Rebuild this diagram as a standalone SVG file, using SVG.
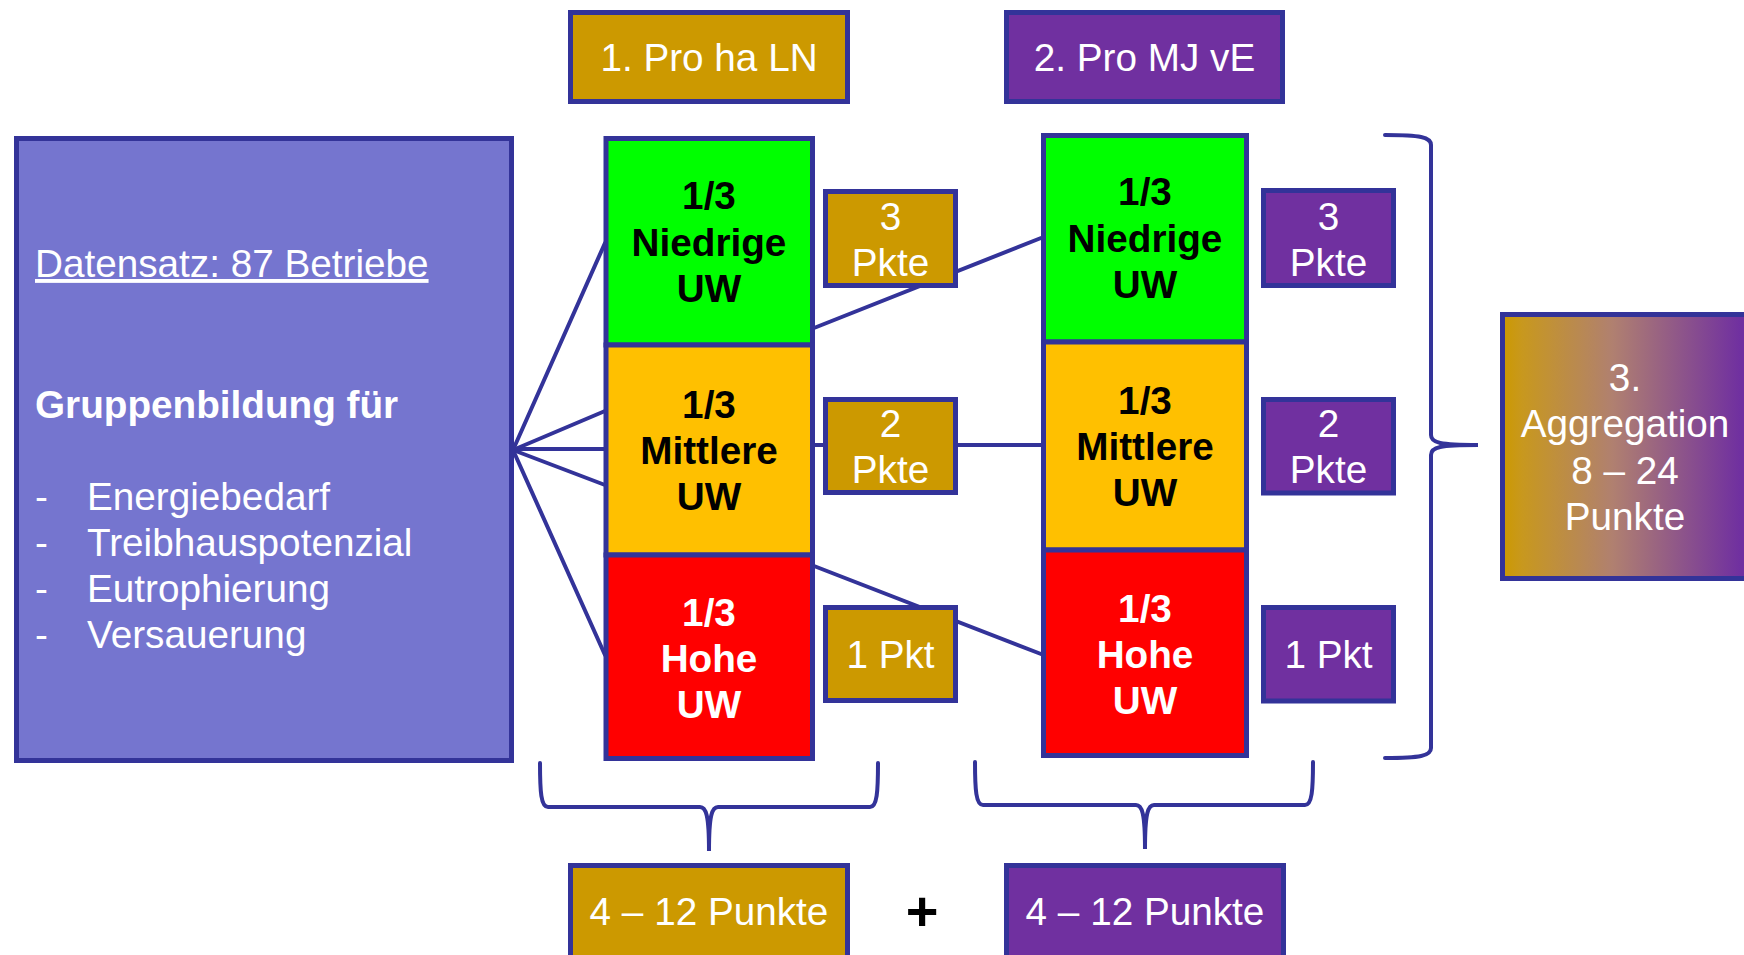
<svg xmlns="http://www.w3.org/2000/svg" width="1744" height="955" viewBox="0 0 1744 955">
<defs>
<linearGradient id="aggGrad" x1="0" y1="0" x2="1" y2="0">
<stop offset="0" stop-color="#CC9900"/>
<stop offset="0.08" stop-color="#C8981E"/>
<stop offset="0.45" stop-color="#B08070"/>
<stop offset="0.97" stop-color="#7030A0"/>
</linearGradient>
</defs>
<style>
text{font-family:"Liberation Sans",Arial,sans-serif;font-size:38.7px}
.box{stroke:#333399;stroke-width:5}
.gold{fill:#CC9900}
.purple{fill:#7030A0}
.w{fill:#FFFFFF}
.k{fill:#000000}
.b{font-weight:bold}
.c{text-anchor:middle}
.conn{stroke:#333399;stroke-width:4;fill:none;stroke-linecap:round}
</style>
<rect width="1744" height="955" fill="#FFFFFF"/>

<g id="connectors">
<line class="conn" x1="513" y1="450" x2="605" y2="243"/>
<line class="conn" x1="513" y1="450" x2="605" y2="411"/>
<line class="conn" x1="513" y1="449" x2="605" y2="449"/>
<line class="conn" x1="513" y1="450" x2="605" y2="485"/>
<line class="conn" x1="513" y1="450" x2="605" y2="655"/>
<line class="conn" x1="814" y1="328" x2="1041" y2="238"/>
<line class="conn" x1="814" y1="445" x2="1041" y2="445"/>
<line class="conn" x1="814" y1="566" x2="1041" y2="654"/>
<path class="conn" d="M540 763 C540 792 541 807 548 807 L700 807 C706 807 709 815 709 851 C709 815 712 807 718 807 L870 807 C877 807 878 792 878 763"/>
<path class="conn" d="M975 762 C975 790 976 805 983 805 L1136 805 C1142 805 1145 813 1145 849 C1145 813 1148 805 1154 805 L1305 805 C1312 805 1313 790 1313 762"/>
<path class="conn" d="M1385 135 C1420 135 1431 137 1431 145 L1431 435 C1431 443 1440 445 1478 445 C1440 445 1431 447 1431 455 L1431 748 C1431 756 1420 758 1385 758"/>
</g>

<g id="datensatz">
<rect class="box" x="16.5" y="138.5" width="495" height="622" fill="#7575CF"/>
<text class="w" x="35" y="277" text-decoration="underline">Datensatz: 87 Betriebe</text>
<text class="w b" x="35" y="417.5">Gruppenbildung für</text>
<text class="w" x="35" y="510">-</text><text class="w" x="87" y="510">Energiebedarf</text>
<text class="w" x="35" y="556">-</text><text class="w" x="87" y="556">Treibhauspotenzial</text>
<text class="w" x="35" y="602">-</text><text class="w" x="87" y="602">Eutrophierung</text>
<text class="w" x="35" y="648">-</text><text class="w" x="87" y="648">Versauerung</text>
</g>

<g id="header1">
<rect class="box gold" x="570.5" y="12.5" width="277" height="89"/>
<text class="w c" x="709" y="71">1. Pro ha LN</text>
</g>
<g id="header2">
<rect class="box purple" x="1006.5" y="12.5" width="276" height="89"/>
<text class="w c" x="1144.5" y="71">2. Pro MJ vE</text>
</g>

<g id="col1-niedrig">
<rect class="box" x="606" y="138.5" width="206.5" height="206.5" fill="#00FF00"/>
<text class="k b c" x="709" y="209.3">1/3</text>
<text class="k b c" x="709" y="255.5">Niedrige</text>
<text class="k b c" x="709" y="301.7">UW</text>
</g>
<g id="col1-mittel">
<rect class="box" x="606" y="345" width="206.5" height="210" fill="#FFC000"/>
<text class="k b c" x="709" y="417.7">1/3</text>
<text class="k b c" x="709" y="464">Mittlere</text>
<text class="k b c" x="709" y="510.3">UW</text>
</g>
<g id="col1-hoch">
<rect class="box" x="606" y="555" width="206.5" height="203.5" fill="#FF0000"/>
<text class="w b c" x="709" y="625.7">1/3</text>
<text class="w b c" x="709" y="672">Hohe</text>
<text class="w b c" x="709" y="718.3">UW</text>
</g>

<g id="col2-niedrig">
<rect class="box" x="1043.5" y="135.5" width="203" height="206.5" fill="#00FF00"/>
<text class="k b c" x="1145" y="205.2">1/3</text>
<text class="k b c" x="1145" y="251.5">Niedrige</text>
<text class="k b c" x="1145" y="297.8">UW</text>
</g>
<g id="col2-mittel">
<rect class="box" x="1043.5" y="342" width="203" height="208" fill="#FFC000"/>
<text class="k b c" x="1145" y="413.7">1/3</text>
<text class="k b c" x="1145" y="460">Mittlere</text>
<text class="k b c" x="1145" y="506.3">UW</text>
</g>
<g id="col2-hoch">
<rect class="box" x="1043.5" y="550" width="203" height="205.5" fill="#FF0000"/>
<text class="w b c" x="1145" y="621.7">1/3</text>
<text class="w b c" x="1145" y="668">Hohe</text>
<text class="w b c" x="1145" y="714.3">UW</text>
</g>

<g id="pkt1-3">
<rect class="box gold" x="825.5" y="191.5" width="130" height="94"/>
<text class="w c" x="890.5" y="229.5">3</text>
<text class="w c" x="890.5" y="275.8">Pkte</text>
</g>
<g id="pkt1-2">
<rect class="box gold" x="825.5" y="399.5" width="130" height="93"/>
<text class="w c" x="890.5" y="437">2</text>
<text class="w c" x="890.5" y="483.3">Pkte</text>
</g>
<g id="pkt1-1">
<rect class="box gold" x="825.5" y="607.5" width="130" height="93"/>
<text class="w c" x="890.5" y="668">1 Pkt</text>
</g>

<g id="pkt2-3">
<rect class="box purple" x="1263.5" y="190.5" width="130" height="95"/>
<text class="w c" x="1328.5" y="229.5">3</text>
<text class="w c" x="1328.5" y="275.8">Pkte</text>
</g>
<g id="pkt2-2">
<rect class="box purple" x="1263.5" y="399.5" width="130" height="93.5"/>
<text class="w c" x="1328.5" y="437">2</text>
<text class="w c" x="1328.5" y="483.3">Pkte</text>
</g>
<g id="pkt2-1">
<rect class="box purple" x="1263.5" y="607.5" width="130" height="93.5"/>
<text class="w c" x="1328.5" y="668">1 Pkt</text>
</g>

<g id="aggregation">
<rect class="box" x="1502.5" y="314.5" width="245" height="264" fill="url(#aggGrad)"/>
<text class="w c" x="1625" y="390.8">3.</text>
<text class="w c" x="1625" y="437">Aggregation</text>
<text class="w c" x="1625" y="483.8">8 – 24</text>
<text class="w c" x="1625" y="530">Punkte</text>
</g>

<g id="sum1">
<rect class="box gold" x="570.5" y="865.5" width="277" height="120"/>
<text class="w c" x="709" y="925">4 – 12 Punkte</text>
</g>
<g id="plus">
<text class="k b c" x="922" y="929.5" style="font-size:56px">+</text>
</g>
<g id="sum2">
<rect class="box purple" x="1006.5" y="865.5" width="277" height="120"/>
<text class="w c" x="1145" y="925">4 – 12 Punkte</text>
</g>
</svg>
